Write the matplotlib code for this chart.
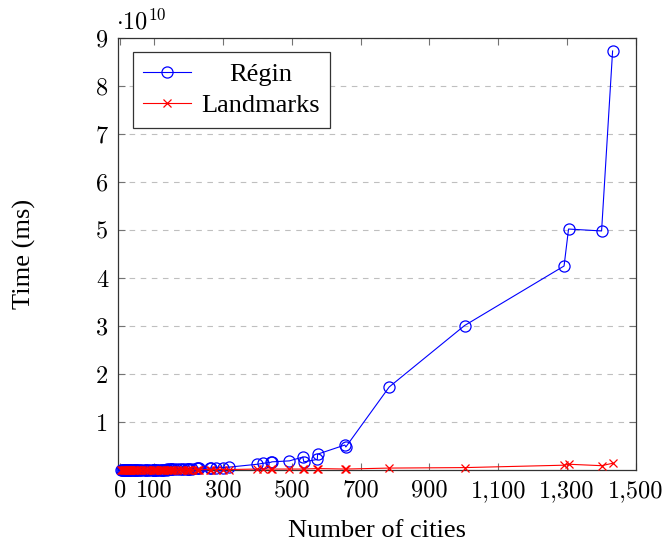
import matplotlib
matplotlib.use("Agg")
import matplotlib.pyplot as plt
from matplotlib.ticker import FuncFormatter

plt.rcParams['axes.formatter.use_mathtext'] = True

# number of cities per instance
cities = [5, 8, 10, 12, 14, 16, 17, 21, 22, 24, 26, 29, 29, 33, 38, 42, 42, 48, 48, 51, 52, 58,
          62, 70, 76, 76, 82, 88, 96, 99, 100, 100, 100, 101, 105, 107, 113, 120, 124, 127,
          130, 136, 137, 144, 150, 150, 152, 159, 166, 175, 180, 187, 195, 198, 200, 202, 210,
          225, 226, 229, 262, 264, 280, 299, 318,
          400, 417, 439, 442, 493, 532, 535, 574, 575, 654, 657,
          783, 1002, 1291, 1304, 1400, 1432]

# times in units of 1e10 ms
regin = [0.01, 0.01, 0.01, 0.01, 0.01, 0.01, 0.01, 0.01, 0.01, 0.01, 0.01, 0.01, 0.01, 0.01, 0.01, 0.01, 0.01, 0.01, 0.01, 0.01, 0.01, 0.01,
         0.01, 0.01, 0.01, 0.01, 0.01, 0.01, 0.01, 0.01, 0.01, 0.01, 0.01, 0.01, 0.01, 0.01, 0.01, 0.01, 0.01, 0.01,
         0.01, 0.01, 0.02, 0.02, 0.02, 0.02, 0.02, 0.02, 0.02, 0.02, 0.02, 0.03, 0.03, 0.03, 0.03, 0.03, 0.03,
         0.04, 0.04, 0.04, 0.04, 0.04, 0.05, 0.05, 0.06,
         0.12, 0.14, 0.16, 0.17, 0.19, 0.27, 0.17, 0.22, 0.33, 0.52, 0.48,
         1.73, 3.01, 4.25, 5.02, 4.98, 8.73]

landmarks = [0.0, 0.0, 0.0, 0.0, 0.0, 0.0, 0.0, 0.0, 0.0, 0.0, 0.0, 0.0, 0.0, 0.0, 0.0, 0.0, 0.0, 0.0, 0.0, 0.0, 0.0, 0.0,
             0.0, 0.0, 0.0, 0.0, 0.0, 0.0, 0.0, 0.0, 0.0, 0.0, 0.0, 0.0, 0.0, 0.0, 0.0, 0.0, 0.0, 0.0,
             0.0, 0.0, 0.0, 0.0, 0.0, 0.0, 0.0, 0.0, 0.005, 0.005, 0.005, 0.005, 0.005, 0.005, 0.005, 0.005, 0.005,
             0.005, 0.005, 0.005, 0.01, 0.01, 0.01, 0.01, 0.01,
             0.02, 0.02, 0.02, 0.02, 0.02, 0.02, 0.02, 0.03, 0.03, 0.02, 0.02,
             0.04, 0.05, 0.10, 0.12, 0.09, 0.14]

xticks = [0, 100, 300, 500, 700, 900, 1100, 1300, 1500]
yticks = [1, 2, 3, 4, 5, 6, 7, 8, 9]

scale = 1e10
regin_ms = [v * scale for v in regin]
land_ms = [v * scale for v in landmarks]

fig = plt.figure(figsize=(6.66, 5.42), dpi=100)
ax = fig.add_axes([118/666, 1 - 470/542, (636-118)/666, (470-38)/542])

ax.plot(cities, regin_ms, '-o', color='blue', lw=0.8, ms=8, mfc='none', mew=0.9,
        label='Régin', zorder=3, clip_on=False)
ax.plot(cities, land_ms, '-x', color='red', lw=0.8, ms=6, mew=0.9,
        label='Landmarks', zorder=3, clip_on=False)

ax.set_xlim(-5, 1500)
ax.set_ylim(0, 9 * scale)
ax.set_xticks(xticks)
ax.set_yticks([t * scale for t in yticks])
ax.xaxis.set_major_formatter(FuncFormatter(lambda v, p: f"{v:,.0f}"))
ax.yaxis.set_major_formatter(FuncFormatter(lambda v, p: f"{v/scale:.0f}"))

ax.tick_params(direction='in', top=True, right=True, length=5, width=0.8, color='0.45',
               labelsize=17.5, pad=7, labelfontfamily='cmr10')

ax.grid(axis='y', color='0.75', linestyle=(0, (5, 5)), lw=0.8)
for s in ax.spines.values():
    s.set_linewidth(0.9)
    s.set_color('0.2')

ax.set_xlabel('Number of cities', fontfamily='Liberation Serif', fontsize=19, labelpad=13)
ax.set_ylabel('Time (ms)', fontfamily='Liberation Serif', fontsize=19, labelpad=43)

fig.text(116/666, 1 - 22/542, r'$\cdot 10^{10}$', fontsize=17.5, ha='left', va='center',
         math_fontfamily='cm')

leg = ax.legend(loc='upper left', bbox_to_anchor=(0.028, 0.968), fancybox=False, framealpha=1,
                edgecolor='0.2', prop={'family': 'Liberation Serif', 'size': 19},
                handlelength=1.8, borderpad=0.4, labelspacing=0.3, handletextpad=0.4,
                borderaxespad=0)
leg.get_frame().set_linewidth(0.9)
leg.set_zorder(5)

# centre the legend entries like pgfplots does
fig.canvas.draw()
texts = leg.get_texts()
widths = [t.get_window_extent().width for t in texts]
wmax = max(widths)
for t, w in zip(texts, widths):
    t.set_position(((wmax - w) / 2, 0))

fig.savefig('out.png', dpi=100)
